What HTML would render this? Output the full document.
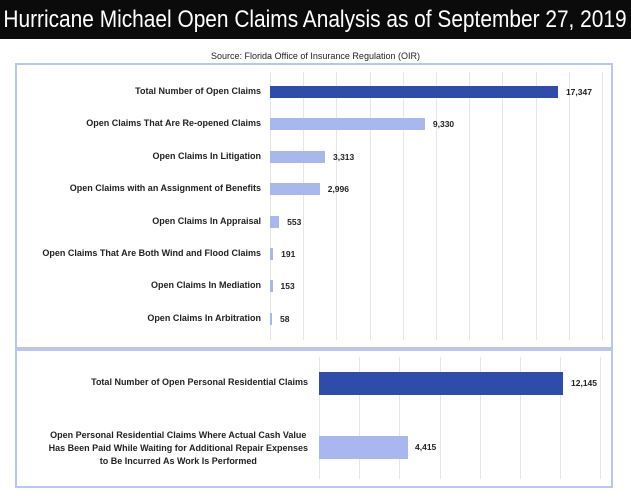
<!DOCTYPE html>
<html><head><style>
body{margin:0;width:631px;height:500px;background:#fff;position:relative;overflow:hidden;font-family:"Liberation Sans",sans-serif}
.hdr{position:absolute;left:0;top:0;width:631px;height:39px;background:#0b0b0b;overflow:hidden}
.hdr span{position:absolute;left:315px;top:0;color:#fff;font-size:24px;line-height:39px;white-space:nowrap;transform:translateX(-50%) scaleX(0.87);transform-origin:center}
.src{position:absolute;top:51px;width:631px;text-align:center;font-size:9px;color:#222}
.box{position:absolute;left:15px;width:594px;border:2px solid #b9c6ef;background:#fff}
.l{position:absolute;font-size:9px;color:#222;text-align:right;white-space:nowrap;font-weight:bold}
.g{position:absolute;width:1px;background:#e6e6e6}
.b{position:absolute}
.v{position:absolute;font-size:8.5px;font-weight:bold;color:#222}
</style></head><body>
<div class="hdr"><span>Hurricane Michael Open Claims Analysis as of September 27, 2019</span></div>
<div class="src">Source: Florida Office of Insurance Regulation (OIR)</div>
<div class="box" style="top:63px;height:282px"></div>
<div class="box" style="top:349px;height:135px"></div>
<div id="c"></div>
<script>
var h='';
for(var i=0;i<=10;i++){h+='<div class="g" style="left:'+(270+i*33.2)+'px;top:72px;height:268px"></div>';}
for(var i=0;i<=7;i++){h+='<div class="g" style="left:'+(319+i*40.2)+'px;top:357px;height:122px"></div>';}
var d=[["Total Number of Open Claims",17347,"17,347",1],["Open Claims That Are Re-opened Claims",9330,"9,330",0],["Open Claims In Litigation",3313,"3,313",0],["Open Claims with an Assignment of Benefits",2996,"2,996",0],["Open Claims In Appraisal",553,"553",0],["Open Claims That Are Both Wind and Flood Claims",191,"191",0],["Open Claims In Mediation",153,"153",0],["Open Claims In Arbitration",58,"58",0]];
d.forEach(function(r,i){var y=92+i*32.4;var w=Math.max(2,r[1]*0.0166);
h+='<div class="l" style="right:370px;top:'+(y-6)+'px">'+r[0]+'</div>';
h+='<div class="b" style="left:270px;top:'+(y-6)+'px;width:'+w+'px;height:12px;background:'+(r[3]?'#2e4daa':'#a8b8ef')+'"></div>';
h+='<div class="v" style="left:'+(270+w+8)+'px;top:'+(y-5)+'px">'+r[2]+'</div>';});
h+='<div class="l" style="right:323px;top:377px">Total Number of Open Personal Residential Claims</div>';
h+='<div class="b" style="left:319px;top:372px;width:244px;height:23px;background:#2e4daa"></div>';
h+='<div class="v" style="left:571px;top:378px">12,145</div>';
h+='<div class="l" style="right:323px;top:429px;line-height:13px;text-align:center">Open Personal Residential Claims Where Actual Cash Value<br>Has Been Paid While Waiting for Additional Repair Expenses<br>to Be Incurred As Work Is Performed</div>';
h+='<div class="b" style="left:319px;top:436px;width:89px;height:23px;background:#a8b8ef"></div>';
h+='<div class="v" style="left:415px;top:442px">4,415</div>';
document.getElementById('c').innerHTML=h;
</script>
</body></html>
